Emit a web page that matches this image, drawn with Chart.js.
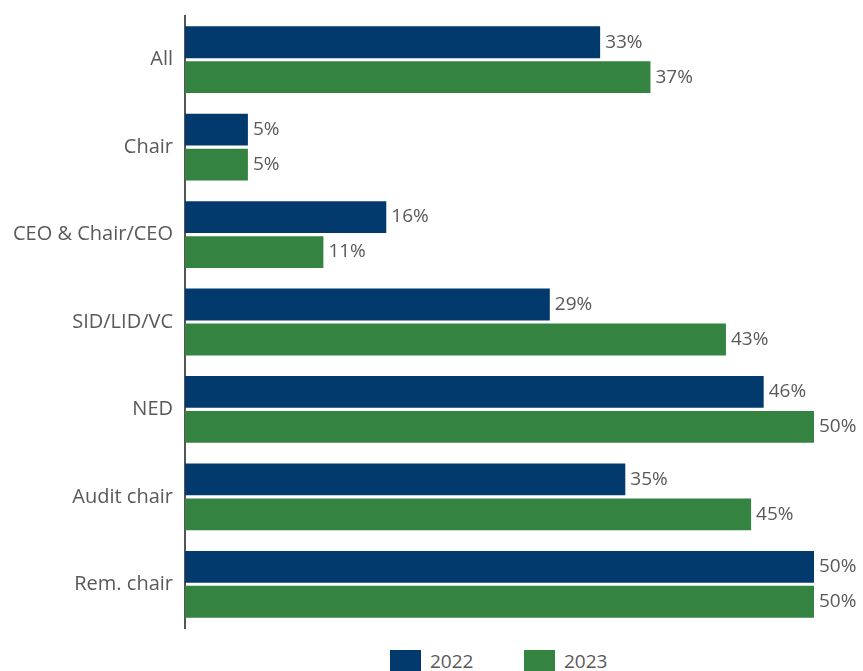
<!DOCTYPE html>
<html>
<head>
<meta charset="utf-8">
<script src="https://cdn.jsdelivr.net/npm/chart.js@4/dist/chart.umd.min.js"></script>
<style>
    html, body { margin: 0; padding: 0; background: #fff; }
    #wrap { position: relative; width: 863px; height: 671px; overflow: hidden; }
    #chart { position: absolute; left: 0; top: 0; }
    .legend { position: absolute; top: 650px; font-family: "Open Sans", sans-serif; font-size: 19px; color: #595959; line-height: 22px; }
    .legend span.box { display: inline-block; width: 31px; height: 21px; vertical-align: top; margin-right: 9px; }
</style>
</head>
<body>
<div id="wrap">
    <canvas id="chart" width="863" height="644"></canvas>
    <div class="legend" style="left:390px"><span class="box" style="background:#033a6e"></span>2022</div>
    <div class="legend" style="left:524px"><span class="box" style="background:#358341"></span>2023</div>
</div>
<script>
// Дані з графіка
const categories = ['All', 'Chair', 'CEO & Chair/CEO', 'SID/LID/VC', 'NED', 'Audit chair', 'Rem. chair'];
const values2022 = [33, 5, 16, 29, 46, 35, 50];
const values2023 = [37, 5, 11, 43, 50, 45, 50];
const seriesLabels = ['2022', '2023'];

const textColor = '#595959';
const fontFamily = '"Open Sans", sans-serif';

// Підписи значень праворуч від смуг
const valueLabels = {
    id: 'valueLabels',
    afterDatasetsDraw(chart) {
        const ctx = chart.ctx;
        ctx.save();
        ctx.font = '19px ' + fontFamily;
        ctx.fillStyle = textColor;
        ctx.textAlign = 'left';
        ctx.textBaseline = 'middle';
        chart.data.datasets.forEach((ds, i) => {
            chart.getDatasetMeta(i).data.forEach((bar, j) => {
                ctx.fillText(ds.data[j] + '%', bar.x + 5, bar.y);
            });
        });
        ctx.restore();
    }
};

new Chart(document.getElementById('chart'), {
    type: 'bar',
    data: {
        labels: categories,
        datasets: [
            { label: seriesLabels[0], data: values2022, backgroundColor: '#033a6e' },
            { label: seriesLabels[1], data: values2023, backgroundColor: '#358341' }
        ]
    },
    options: {
        indexAxis: 'y',
        responsive: false,
        animation: false,
        layout: { padding: { top: 10, right: 49, bottom: 1, left: 0 } },
        datasets: { bar: { categoryPercentage: 0.8, barPercentage: 0.91 } },
        plugins: { legend: { display: false }, tooltip: { enabled: false } },
        scales: {
            x: { display: false, min: 0, max: 50 },
            y: {
                afterFit(scale) { scale.width = 185; },
                grid: { display: false },
                border: { display: true, color: '#555555', width: 2 },
                ticks: { color: textColor, font: { family: fontFamily, size: 20 }, padding: 4 }
            }
        }
    },
    plugins: [valueLabels]
});
</script>
</body>
</html>
